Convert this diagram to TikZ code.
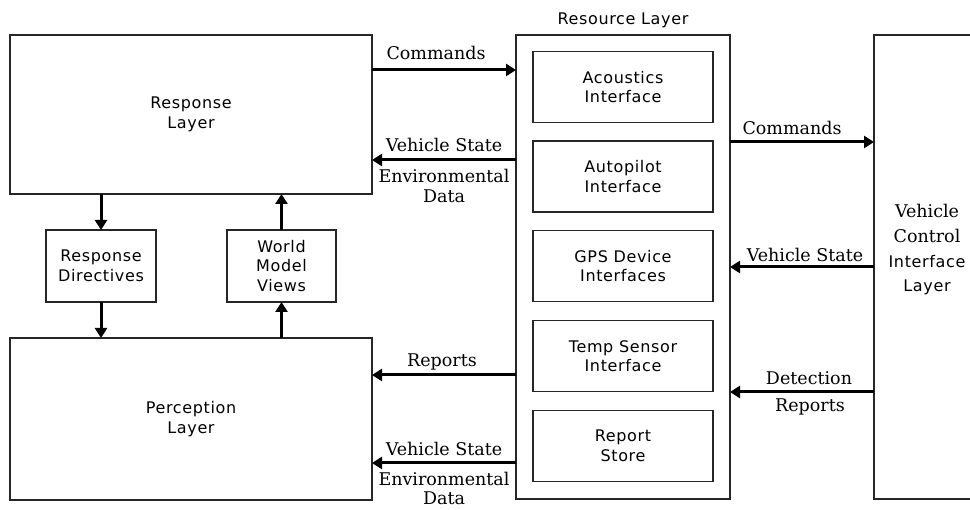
\documentclass[tikz,border=0pt]{standalone}
\usepackage{fontspec}
\setmainfont{DejaVu Serif}
\newfontfamily\boxfont[LetterSpace=4]{DejaVu Sans}
\usetikzlibrary{arrows.meta}
\def\labelsize{\fontsize{17.5}{20}\selectfont}
\def\boxsize{\fontsize{16}{19.5}\selectfont}

\begin{document}
\begin{tikzpicture}[x=1pt,y=-1pt]
    \tikzstyle{box}=[rectangle,draw=black!85,line width=1.4pt,outer sep=0pt,inner sep=0pt,align=center,font=\boxfont\boxsize]
    \tikzstyle{layer box}=[box]
    \tikzstyle{part box}=[box,minimum width=180,minimum height=71]
    \tikzstyle{flow}=[line width=3pt,-{Triangle[length=10pt,width=12pt]}]
    \tikzstyle{annot}=[anchor=base,inner sep=0pt,font=\labelsize]
    \tikzstyle{tag}=[anchor=base,inner sep=0pt,font=\boxfont\boxsize]

    \useasboundingbox (0,0) rectangle (970,510);

    % Left side: response and perception layers
    \node[layer box,minimum width=362,minimum height=159] (resp) at (191,114.5) {Response\\Layer};
    \node[layer box,minimum width=362,minimum height=162] (perc) at (191,419) {Perception\\Layer};
    \node[box,minimum width=110,minimum height=72] (dir) at (101,266) {Response\\Directives};
    \node[box,minimum width=109,minimum height=72] (wmv) at (281.5,266) {World\\Model\\Views};

    % Resource layer and its interfaces
    \node[layer box,minimum width=214,minimum height=464] (res) at (623,267) {};
    \node[tag] (res-title) at (623,25) {Resource Layer};
    \foreach \name/\y/\first/\second in {acu/87/Acoustics/Interface,
                                         auto/176.5/Autopilot/Interface,
                                         gps/266/GPS Device/Interfaces,
                                         temp/356/Temp Sensor/Interface,
                                         store/446/Report/Store}
        \node[part box] (\name) at (623,\y) {\first\\\second};

    % Vehicle control interface (runs off the right edge)
    \node[layer box,minimum width=106,minimum height=464] (vci) at (927,267) {};
    \node[annot] (vci-1) at (927,218) {Vehicle};
    \node[annot] (vci-2) at (927,243) {Control};
    \node[tag] (vci-3) at (927,268) {Interface};
    \node[tag] (vci-4) at (927,292) {Layer};

    % Between response and perception
    \draw[flow] (dir.north |- resp.south) -- (dir.north);
    \draw[flow] (dir.south) -- (dir.south |- perc.north);
    \draw[flow] (wmv.south |- perc.north) -- (wmv.south);
    \draw[flow] (wmv.north) -- (wmv.north |- resp.south);

    % Left connections
    \draw[flow] ([yshift=-35pt]resp.north east) -- ([yshift=-35pt]res.north west);
    \draw[flow] ([yshift=-125pt]res.north west) -- ([yshift=-125pt]resp.north east);
    \draw[flow] ([yshift=-340pt]res.north west) -- ([yshift=-37pt]perc.north east);
    \draw[flow] ([yshift=-428pt]res.north west) -- ([yshift=-125pt]perc.north east);
    \node[annot] (cmd-l) at (436,60) {Commands};
    \node[annot] (vs-l1) at (444,152) {Vehicle State};
    \node[annot] (env-l1) at (444,183) {Environmental};
    \node[annot] (data-l1) at (444,203) {Data};
    \node[annot] (rep-l) at (442,367) {Reports};
    \node[annot] (vs-l2) at (444,456) {Vehicle State};
    \node[annot] (env-l2) at (444,486) {Environmental};
    \node[annot] (data-l2) at (444,505) {Data};

    % Right connections
    \draw[flow] ([yshift=-107pt]res.north east) -- ([yshift=-107pt]vci.north west);
    \draw[flow] ([yshift=-232pt]vci.north west) -- ([yshift=-232pt]res.north east);
    \draw[flow] ([yshift=-357pt]vci.north west) -- ([yshift=-357pt]res.north east);
    \node[annot] (cmd-r) at (792,135) {Commands};
    \node[annot] (vs-r) at (805,262) {Vehicle State};
    \node[annot] (det-r1) at (809,385) {Detection};
    \node[annot] (det-r2) at (810,412) {Reports};
\end{tikzpicture}
\end{document}
